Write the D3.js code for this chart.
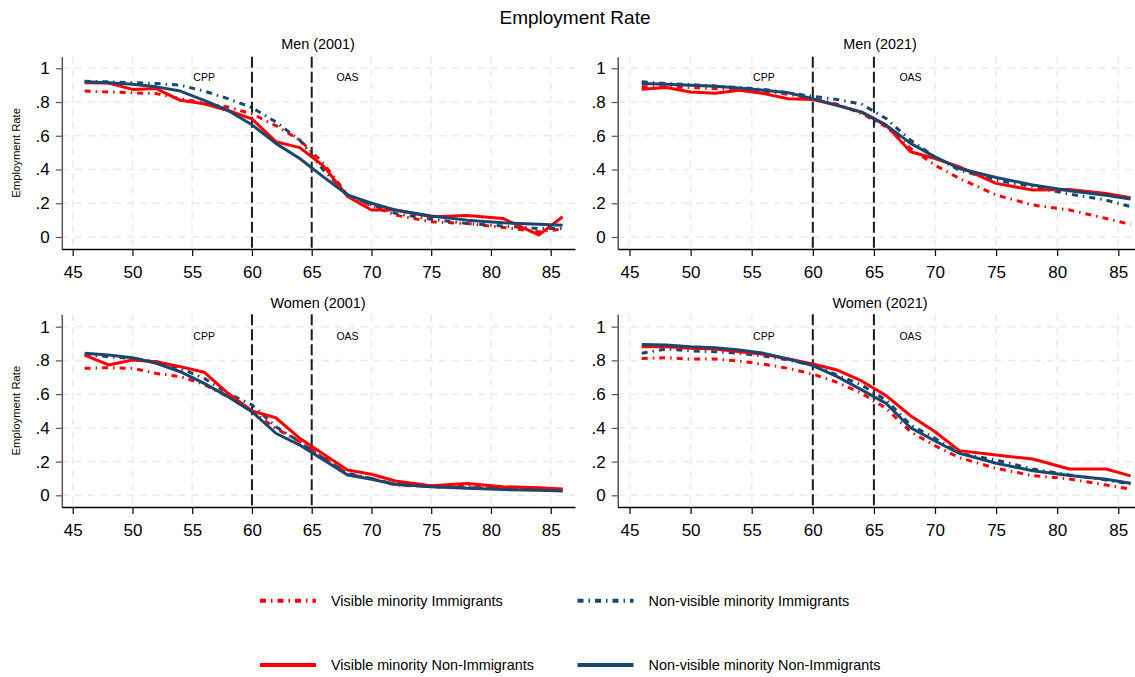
<!DOCTYPE html>
<html>
<head>
<meta charset="utf-8">
<script src="https://cdn.jsdelivr.net/npm/d3@7"></script>
<style>
  body { margin: 0; background: #fff; }
  svg { display: block; font-family: "Liberation Sans", Arial, sans-serif; }
</style>
</head>
<body>
<div id="chart"></div>
<script>
const ages = [46, 48, 50, 52, 54, 56, 58, 60, 62, 64, 66, 68, 70, 72, 75, 78, 81, 84, 86];
const xTicks = [45, 50, 55, 60, 65, 70, 75, 80, 85];
const yTicks = [0, 0.2, 0.4, 0.6, 0.8, 1];
const yTickLabels = ["0", ".2", ".4", ".6", ".8", "1"];
const refLines = [60, 65];
const refLabels = [{ text: "CPP", age: 56 }, { text: "OAS", age: 68 }];
const seriesNames = ["Visible minority Immigrants", "Non-visible minority Immigrants",
                     "Visible minority Non-Immigrants", "Non-visible minority Non-Immigrants"];

// Men (2001)
const men2001VisImm = [.865, .86, .855, .85, .82, .795, .77, .73, .66, .575, .435, .25, .185, .13, .09, .08, .057, .03, .047];
const men2001NonVisImm = [.923, .92, .915, .91, .9, .865, .82, .767, .682, .575, .395, .25, .19, .14, .105, .08, .065, .05, .05];
const men2001VisNonImm = [.915, .913, .875, .88, .81, .79, .75, .7, .565, .53, .42, .24, .16, .16, .12, .128, .11, .012, .12];
const men2001NonVisNonImm = [.92, .915, .905, .89, .865, .81, .75, .665, .555, .465, .355, .25, .2, .16, .125, .1, .085, .075, .07];

// Men (2021)
const men2021VisImm = [.89, .89, .886, .88, .874, .864, .846, .82, .787, .732, .653, .525, .426, .347, .249, .19, .16, .11, .075];
const men2021NonVisImm = [.92, .91, .903, .895, .886, .874, .855, .834, .815, .787, .702, .574, .475, .396, .337, .298, .254, .219, .18];
const men2021VisNonImm = [.876, .886, .86, .852, .87, .85, .82, .815, .78, .74, .663, .505, .465, .416, .318, .278, .282, .258, .233];
const men2021NonVisNonImm = [.91, .905, .9, .893, .883, .87, .855, .82, .78, .74, .663, .555, .475, .406, .353, .308, .274, .248, .225];

// Women (2001)
const women2001VisImm = [.753, .757, .753, .723, .704, .658, .585, .496, .397, .318, .229, .125, .1, .061, .051, .057, .045, .038, .032];
const women2001NonVisImm = [.836, .822, .812, .792, .753, .694, .605, .536, .407, .318, .219, .13, .1, .065, .051, .045, .041, .036, .032];
const women2001VisNonImm = [.832, .773, .802, .792, .763, .73, .605, .5, .46, .338, .243, .15, .125, .085, .057, .07, .051, .045, .038];
const women2001NonVisNonImm = [.842, .832, .816, .783, .733, .664, .585, .496, .368, .298, .21, .12, .095, .065, .05, .042, .034, .03, .026];

// Women (2021)
const women2021VisImm = [.812, .816, .808, .808, .796, .777, .753, .719, .67, .605, .516, .377, .294, .223, .16, .117, .097, .061, .036];
const women2021NonVisImm = [.842, .868, .856, .852, .842, .826, .802, .773, .713, .654, .565, .417, .338, .249, .209, .156, .121, .091, .067];
const women2021VisNonImm = [.881, .881, .872, .868, .852, .836, .808, .779, .743, .678, .591, .472, .377, .265, .239, .215, .156, .156, .115];
const women2021NonVisNonImm = [.895, .891, .881, .875, .862, .842, .808, .769, .704, .625, .545, .401, .322, .249, .19, .146, .117, .095, .071];

const panels = [
  { title: "Men (2001)", col: 0, row: 0, series: [men2001VisImm, men2001NonVisImm, men2001VisNonImm, men2001NonVisNonImm] },
  { title: "Men (2021)", col: 1, row: 0, series: [men2021VisImm, men2021NonVisImm, men2021VisNonImm, men2021NonVisNonImm] },
  { title: "Women (2001)", col: 0, row: 1, series: [women2001VisImm, women2001NonVisImm, women2001VisNonImm, women2001NonVisNonImm] },
  { title: "Women (2021)", col: 1, row: 1, series: [women2021VisImm, women2021NonVisImm, women2021VisNonImm, women2021NonVisNonImm] }
];

const colors = ["#ff0000", "#1a476f", "#ff0000", "#1a476f"];
const dashes = ["6,5,1.5,5", "6,5,1.5,5", null, null];

// panel geometry
const cols = [
  { left: 61.8, right: 575, x45: 72.7, x85: 550.7, titleX: 318 },
  { left: 617.7, right: 1135, x45: 629.5, x85: 1118.3, titleX: 880 }
];
const rows = [
  { top: 56.7, bottom: 249, y0: 237, y1: 68.3, titleY: 49 },
  { top: 314.3, bottom: 507, y0: 495.3, y1: 326.7, titleY: 307.5 }
];

const svg = d3.select("#chart").append("svg")
  .attr("width", 1135)
  .attr("height", 677);

svg.append("text")
  .attr("x", 575)
  .attr("y", 24)
  .attr("text-anchor", "middle")
  .style("font-size", "19px")
  .text("Employment Rate");

panels.forEach(p => {
  const c = cols[p.col], r = rows[p.row];

  const x = d3.scaleLinear().domain([45, 85]).range([c.x45, c.x85]);
  x.domain([x.invert(c.left), x.invert(c.right)]).range([c.left, c.right]);
  const y = d3.scaleLinear().domain([0, 1]).range([r.y0, r.y1]);
  y.domain([y.invert(r.bottom), y.invert(r.top)]).range([r.bottom, r.top]);

  const g = svg.append("g");

  // grid
  g.append("g").selectAll("line")
    .data(yTicks)
    .enter().append("line")
    .attr("x1", c.left).attr("x2", c.right)
    .attr("y1", d => y(d)).attr("y2", d => y(d))
    .attr("stroke", "#ebebeb").attr("stroke-width", 1.5)
    .attr("stroke-dasharray", "7,6");
  g.append("g").selectAll("line")
    .data(xTicks)
    .enter().append("line")
    .attr("x1", d => x(d)).attr("x2", d => x(d))
    .attr("y1", r.top).attr("y2", r.bottom)
    .attr("stroke", "#ebebeb").attr("stroke-width", 1.5)
    .attr("stroke-dasharray", "7,6");

  // reference lines
  g.append("g").selectAll("line")
    .data(refLines)
    .enter().append("line")
    .attr("x1", d => x(d)).attr("x2", d => x(d))
    .attr("y1", r.top).attr("y2", r.bottom)
    .attr("stroke", "#1a1a1a").attr("stroke-width", 2)
    .attr("stroke-dasharray", "11,4");

  g.append("g").selectAll("text")
    .data(refLabels)
    .enter().append("text")
    .attr("x", d => x(d.age))
    .attr("y", y(0.945))
    .attr("dy", "0.35em")
    .attr("text-anchor", "middle")
    .style("font-size", "10.5px")
    .text(d => d.text);

  // series
  const line = d3.line()
    .x((d, i) => x(ages[i]))
    .y(d => y(d));

  p.series.forEach((s, k) => {
    g.append("path")
      .datum(s)
      .attr("d", line)
      .attr("fill", "none")
      .attr("stroke", colors[k])
      .attr("stroke-width", 3)
      .attr("stroke-linejoin", "round")
      .attr("stroke-dasharray", dashes[k]);
  });

  // axes
  const yAxis = g.append("g")
    .attr("transform", `translate(${c.left},0)`)
    .call(d3.axisLeft(y).tickValues(yTicks)
      .tickFormat((d, i) => yTickLabels[i])
      .tickSize(6).tickSizeOuter(0).tickPadding(6));
  yAxis.select(".domain").attr("stroke", "#555").attr("stroke-width", 1.5);
  yAxis.selectAll(".tick line").attr("stroke", "#555").attr("stroke-width", 1.2);
  yAxis.selectAll("text").style("font-size", "17px").attr("fill", "#000")
    .style("font-family", "'Liberation Sans', Arial, sans-serif");

  const xAxis = g.append("g")
    .attr("transform", `translate(0,${r.bottom})`)
    .call(d3.axisBottom(x).tickValues(xTicks)
      .tickSize(7).tickSizeOuter(0).tickPadding(10));
  xAxis.select(".domain").attr("stroke", "#000").attr("stroke-width", 1.5);
  xAxis.selectAll(".tick line").attr("stroke", "#000").attr("stroke-width", 1.2);
  xAxis.selectAll("text").style("font-size", "17px").attr("fill", "#000")
    .style("font-family", "'Liberation Sans', Arial, sans-serif");

  // panel title
  svg.append("text")
    .attr("x", c.titleX)
    .attr("y", r.titleY)
    .attr("text-anchor", "middle")
    .style("font-size", "14.4px")
    .text(p.title);

  if (p.col === 0) {
    const cy = (r.top + r.bottom) / 2;
    svg.append("text")
      .attr("transform", `translate(20,${cy}) rotate(-90)`)
      .attr("text-anchor", "middle")
      .style("font-size", "11.3px")
      .text("Employment Rate");
  }
});

// legend
const legendPos = [
  { x: 260, y: 600.7 }, { x: 577.5, y: 600.7 },
  { x: 260, y: 665 }, { x: 577.5, y: 665 }
];

const legend = svg.append("g").selectAll("g")
  .data(seriesNames)
  .enter().append("g")
  .attr("transform", (d, i) => `translate(${legendPos[i].x},${legendPos[i].y})`);

legend.append("line")
  .attr("x1", 0).attr("x2", 56)
  .attr("stroke", (d, i) => colors[i])
  .attr("stroke-width", 4)
  .attr("stroke-dasharray", (d, i) => dashes[i]);

legend.append("text")
  .attr("x", 71)
  .attr("dy", "0.35em")
  .style("font-size", "14.4px")
  .text(d => d);
</script>
</body>
</html>
